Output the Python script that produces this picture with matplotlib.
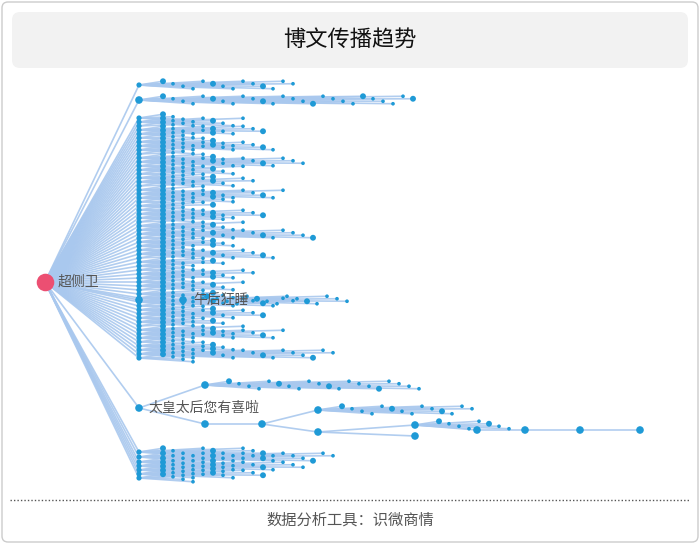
import matplotlib.pyplot as plt
from matplotlib.patches import FancyBboxPatch
from matplotlib.collections import LineCollection

plt.rcParams['font.family'] = ['Noto Sans CJK SC', 'DejaVu Sans']

title = "博文传播趋势"
footer = "数据分析工具：识微商情"
root_label = "超侧卫"

# first-level reposts (y order) and how many second-level reposts each one has
main_y = [85, 100] + [118 + i * 4 for i in range(61)]
main_children = [14, 26, 4, 9, 2, 11, 6, 3, 8, 12, 5, 2, 7, 15, 4, 9, 3, 6, 10, 2,
                 5, 13, 8, 3, 6, 4, 11, 7, 2, 9, 5, 16, 3, 8, 6, 4, 12, 2, 7, 5,
                 3, 10, 6, 4, 9, 2, 8, 5, 14, 3, 6, 11, 4, 7, 2, 9, 13, 5, 3, 8,
                 6, 18, 4]
tail_y = [452, 457, 462, 466, 470, 474, 478]
tail_children = [12, 18, 9, 15, 7, 11, 5]

# labelled sub-trees: (x, y, parent index)
wuhou_label = "午后狂睡"
wuhou_nodes = [(139, 300, -1), (183, 300, 0)]
wuhou_children = 15

taihuang_label = "太皇太后您有喜啦"
taihuang_nodes = [(139, 408, -1), (205, 385, 0), (205, 424, 0), (262, 424, 2),
                  (318, 410, 3), (318, 432, 3), (415, 425, 5), (415, 436, 5),
                  (477, 430, 6), (525, 430, 8), (580, 430, 9), (640, 430, 10)]
taihuang_rows = {1: 20, 4: 14, 6: 8}

root = (45, 282)
edge_c = '#a9c8ee'
node_c = '#1f9ad6'

fig = plt.figure(figsize=(7, 5.44), dpi=100)
ax = fig.add_axes([0, 0, 1, 1])
ax.set_xlim(0, 700)
ax.set_ylim(544, 0)
ax.axis('off')

ax.add_patch(FancyBboxPatch((2, 2), 696, 540, boxstyle="round,pad=0,rounding_size=6",
                            fc='white', ec='#cccccc', lw=1))
ax.add_patch(FancyBboxPatch((12, 12), 676, 56, boxstyle="round,pad=0,rounding_size=8",
                            fc='#f2f2f2', ec='none'))
ax.text(350, 39, title, ha='center', va='center', fontsize=16, color='#111111',
        fontweight='medium')
ax.plot([10, 690], [500, 500], ls=(0, (1, 1.5)), color='#555555', lw=1)
ax.text(350, 520, footer, ha='center', va='center', fontsize=11, color='#555555')

segs, px, py, ps = [], [], [], []


def add_row(x0, y0, n, step=10):
    for k in range(n):
        cx = x0 + 24 + k * step
        cy = y0 + ((k % 4) - 1.5) * 2.5
        segs.append([(x0, y0), (cx, cy)])
        px.append(cx)
        py.append(cy)
        ps.append(18 if k % 5 == 0 else 7)


for y, n in zip(main_y + tail_y, main_children + tail_children):
    segs.append([root, (139, y)])
    px.append(139)
    py.append(y)
    ps.append(14 if y != 100 else 30)
    add_row(139, y, n)

for nodes in (wuhou_nodes, taihuang_nodes):
    for x, y, p in nodes:
        if p < 0:
            segs.append([root, (x, y)])
        else:
            segs.append([nodes[p][:2], (x, y)])
        px.append(x)
        py.append(y)
        ps.append(30)
add_row(183, 300, wuhou_children)
for i, n in taihuang_rows.items():
    add_row(taihuang_nodes[i][0], taihuang_nodes[i][1], n)

ax.add_collection(LineCollection(segs, colors=edge_c, lw=1.2, alpha=0.9, zorder=2))
ax.scatter(px, py, s=ps, c=node_c, zorder=3, lw=0)
ax.scatter([root[0]], [root[1]], s=160, c='#ec4f72', zorder=4, lw=0)

ax.text(58, 282, root_label, va='center', fontsize=10, color='#555555', zorder=5)
ax.text(193, 300, wuhou_label, va='center', fontsize=10, color='#555555', zorder=5)
ax.text(148, 408, taihuang_label, va='center', fontsize=10, color='#555555', zorder=5)

fig.savefig('out.png', dpi=100)
